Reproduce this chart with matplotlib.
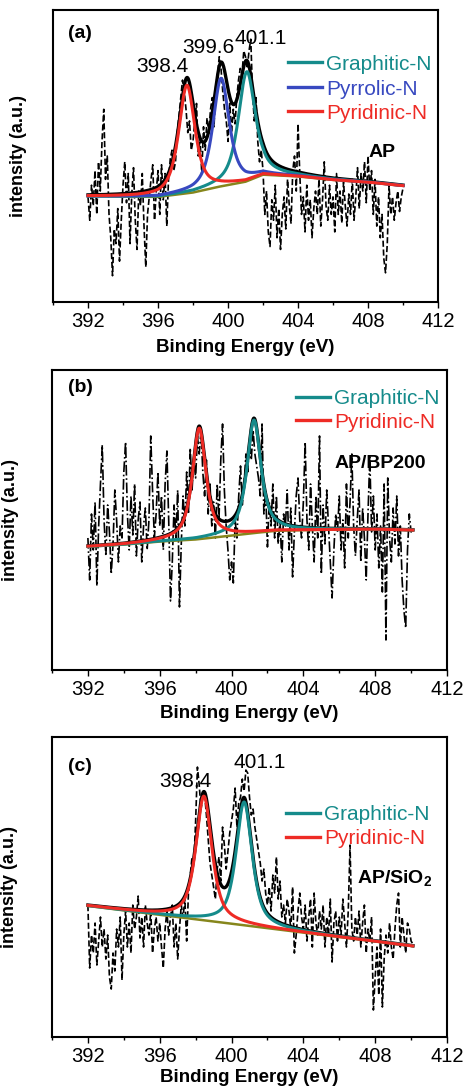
import matplotlib
matplotlib.use('Agg')
import matplotlib.pyplot as plt
import numpy as np
from matplotlib.ticker import MultipleLocator

plt.rcParams['font.family'] = ['Liberation Sans', 'DejaVu Sans']
plt.rcParams['mathtext.fontset'] = 'custom'
plt.rcParams['mathtext.rm'] = 'Liberation Sans'
plt.rcParams['mathtext.bf'] = 'Liberation Sans:bold'

# ---- raw N1s spectra (0.1 eV step from 392.0), arbitrary units ----
energy_a = np.round(np.arange(392.0, 410.05, 0.1), 1)
raw_a = [36, 28, 40, 33, 45, 30, 48, 38, 55, 66,
         42, 50, 30, 22, 9, 25, 20, 32, 14, 28,
         40, 48, 34, 44, 20, 37, 46, 28, 18, 38,
         33, 44, 26, 12, 30, 36, 42, 47, 28, 38,
         45, 30, 47, 35, 44, 26, 42, 49, 52, 45,
         48, 58, 64, 70, 76, 72, 66, 58, 62, 52,
         55, 62, 68, 50, 56, 44, 60, 52, 63, 58,
         66, 70, 60, 74, 78, 84, 80, 72, 66, 62,
         55, 68, 58, 66, 61, 70, 76, 80, 78, 86,
         84, 80, 86, 90, 72, 62, 70, 55, 48, 52,
         45, 30, 38, 24, 19, 35, 28, 40, 22, 32,
         18, 30, 36, 25, 42, 33, 27, 45, 50, 38,
         61, 44, 30, 36, 24, 40, 28, 35, 22, 32,
         38, 30, 42, 26, 35, 48, 33, 28, 40, 30,
         36, 24, 44, 30, 38, 27, 41, 33, 26, 37,
         30, 42, 28, 36, 46, 32, 44, 38, 48, 34,
         50, 38, 45, 30, 42, 26, 36, 22, 30, 15,
         10, 20, 40, 30, 36, 28, 34, 38, 31, 36,
         39]

energy_b = np.round(np.arange(392.0, 410.15, 0.1), 1)
raw_b = [44, 30, 52, 40, 56, 28, 48, 62, 75, 50,
         38, 55, 46, 32, 42, 60, 50, 36, 48, 44,
         66, 76, 52, 40, 58, 45, 62, 38, 50, 56,
         36, 48, 54, 40, 50, 78, 60, 44, 52, 66,
         48, 58, 40, 62, 73, 50, 23, 36, 55, 44,
         60, 21, 42, 58, 48, 66, 52, 74, 60, 70,
         64, 78, 72, 80, 66, 58, 70, 52, 62, 48,
         56, 44, 62, 50, 70, 82, 60, 48, 40, 30,
         36, 29, 50, 44, 58, 68, 55, 62, 72, 66,
         76, 70, 80, 72, 68, 64, 58, 82, 52, 60,
         41, 56, 48, 62, 44, 58, 42, 50, 36, 52,
         48, 60, 40, 54, 31, 46, 58, 64, 50, 44,
         56, 76, 50, 40, 62, 48, 36, 58, 44, 78,
         32, 55, 42, 60, 48, 36, 24, 40, 52, 46,
         58, 40, 50, 34, 62, 44, 56, 72, 48, 38,
         50, 60, 36, 54, 44, 30, 52, 71, 46, 58,
         40, 52, 34, 48, 26, 62, 10, 64, 44, 36,
         54, 42, 58, 38, 48, 30, 20, 14, 40, 52,
         46, 47]

energy_c = np.round(np.arange(392.0, 410.15, 0.1), 1)
raw_c = [44, 23, 34, 28, 38, 24, 32, 40, 30, 36,
         26, 34, 20, 16, 28, 22, 36, 30, 40, 19,
         34, 42, 30, 38, 28, 44, 36, 40, 47, 33,
         40, 30, 44, 38, 34, 42, 28, 36, 40, 32,
         38, 30, 23, 36, 42, 34, 40, 44, 30, 38,
         26, 36, 44, 40, 46, 32, 48, 54, 60, 58,
         72, 90, 84, 76, 80, 81, 74, 66, 58, 54,
         50, 46, 56, 60, 52, 70, 64, 56, 62, 68,
         72, 76, 83, 70, 78, 80, 86, 82, 89, 88,
         80, 74, 76, 70, 66, 62, 58, 52, 56, 48,
         44, 50, 42, 54, 48, 60, 46, 52, 40, 44,
         38, 46, 42, 36, 50, 28, 34, 42, 48, 40,
         36, 44, 32, 40, 46, 30, 48, 38, 34, 42,
         36, 44, 30, 40, 34, 46, 25, 38, 42, 32,
         40, 34, 46, 38, 30, 42, 64, 36, 32, 40,
         34, 42, 30, 38, 44, 28, 36, 32, 40, 9,
         20, 30, 14, 36, 10, 26, 34, 28, 38, 30,
         26, 36, 44, 48, 30, 40, 34, 28, 38, 36,
         32, 31]

# ---- fitted background (knots) ----
bg_x_a = [392, 396, 398, 399.5, 401, 402, 404, 406, 408, 410]
bg_y_a = [36.2, 36.0, 37.5, 39.5, 41.2, 43.6, 43.0, 41.8, 41.0, 39.8]
bg_x_b = [392, 394, 396, 398, 400, 401.5, 402.5, 404, 406, 408, 410.1]
bg_y_b = [41.1, 41.8, 42.8, 43.5, 44.8, 45.8, 46.4, 46.6, 46.8, 46.9, 46.6]
bg_x_c = [392, 410.1]
bg_y_c = [43.7, 30.3]

# ---- fitted components: name, center (eV), height, FWHM (eV) ----
peaks_a = [('Graphitic-N', 401.07, 37.5, 1.15),
           ('Pyrrolic-N', 399.6, 37.0, 1.1),
           ('Pyridinic-N', 397.65, 37.0, 1.1)]
peaks_b = [('Graphitic-N', 401.25, 37.7, 0.93),
           ('Pyridinic-N', 398.2, 37.0, 0.9)]
peaks_c = [('Graphitic-N', 400.7, 41.1, 1.06),
           ('Pyridinic-N', 398.46, 41.4, 1.06)]

colors = {'Graphitic-N': '#158b8b', 'Pyrrolic-N': '#3849c0', 'Pyridinic-N': '#ee2b25'}
olive = '#86861c'


def pseudo_voigt(x, center, height, fwhm, eta=0.7):
    hw = fwhm / 2.0
    lor = 1.0 / (1.0 + ((x - center) / hw) ** 2)
    gau = np.exp(-np.log(2) * ((x - center) / hw) ** 2)
    return height * (eta * lor + (1 - eta) * gau)


def draw_panel(ax, energy, raw, rawstyle, bg_x, bg_y, peaks, x_end, eta,
               tag, tag_y, sample, sample_xy, legend_x, legend_y, xlabel_pad):
    ax.plot(energy, raw, color='black', linestyle=rawstyle, linewidth=1.2, zorder=1)

    x = np.linspace(392, x_end, 700)
    bg = np.interp(x, bg_x, bg_y)
    comps = [pseudo_voigt(x, c, h, w, eta) for (_, c, h, w) in peaks]
    ax.plot(x, bg + np.sum(comps, axis=0), color='black', linewidth=2.4, zorder=2)
    ax.plot(bg_x, bg_y, color=olive, linewidth=1.8, zorder=3)
    for (name, c, h, w), comp in zip(peaks, comps):
        ax.plot(x, bg + comp, color=colors[name], linewidth=2.2, zorder=4)

    # legend drawn by hand
    for i, (name, c, h, w) in enumerate(peaks):
        yy = legend_y[i]
        ax.plot([legend_x[0], legend_x[1]], [yy, yy], color=colors[name],
                linewidth=2.4, transform=ax.transAxes, zorder=5)
        ax.text(legend_x[2], yy, name, color=colors[name], fontsize=15,
                va='center_baseline', ha='left', transform=ax.transAxes)

    ax.text(0.04, tag_y, tag, fontsize=14, fontweight='bold', va='center',
            transform=ax.transAxes)
    ax.text(sample_xy[0], sample_xy[1], sample, fontsize=14, fontweight='bold',
            ha='center', va='center_baseline')

    ax.set_xlim(390, 412)
    ax.set_ylim(0, 100)
    ax.xaxis.set_major_locator(MultipleLocator(4))
    ax.xaxis.set_minor_locator(MultipleLocator(2))
    ax.set_xticks([392, 396, 400, 404, 408, 412])
    ax.set_yticks([])
    ax.tick_params(axis='x', which='major', direction='out', length=4, width=1,
                   labelsize=14.5, pad=3)
    ax.tick_params(axis='x', which='minor', direction='out', length=2.5, width=1)
    for sp in ax.spines.values():
        sp.set_linewidth(1.5)
    ax.set_xlabel('Binding Energy (eV)', fontsize=13.5, fontweight='bold',
                  labelpad=xlabel_pad)
    ax.set_ylabel('intensity (a.u.)', fontsize=13, fontweight='bold')


fig = plt.figure(figsize=(4.65, 10.86), dpi=100)

ax_a = fig.add_axes([0.1140, 0.7219, 0.8280, 0.2689])
ax_b = fig.add_axes([0.1118, 0.3831, 0.8495, 0.2762])
ax_c = fig.add_axes([0.1118, 0.0451, 0.8495, 0.2762])

draw_panel(ax_a, energy_a, raw_a, '--', bg_x_a, bg_y_a, peaks_a, 410.0, 0.7,
           '(a)', 0.921, 'AP', (408.8, 52.0),
           (0.610, 0.699, 0.709), (0.821, 0.735, 0.654), 6)
draw_panel(ax_b, energy_b, raw_b, '-.', bg_x_b, bg_y_b, peaks_b, 410.1, 0.8,
           '(b)', 0.942, 'AP/BP200', (408.3, 69.5),
           (0.618, 0.704, 0.714), (0.911, 0.833), 4.5)
draw_panel(ax_c, energy_c, raw_c, '--', bg_x_c, bg_y_c, peaks_c, 410.1, 0.7,
           '(c)', 0.903, r'AP/SiO$_\mathbf{2}$', (409.1, 53.5),
           (0.592, 0.678, 0.689), (0.748, 0.668), 2)

ax_a.yaxis.set_label_coords(-0.0675, 0.5)
ax_b.yaxis.set_label_coords(-0.0835, 0.5)
ax_c.yaxis.set_label_coords(-0.086, 0.5)

# peak position labels
ax_a.text(396.26, 81.2, '398.4', fontsize=15, ha='center', va='center_baseline')
ax_a.text(398.9, 88.0, '399.6', fontsize=15, ha='center', va='center_baseline')
ax_a.text(401.87, 90.9, '401.1', fontsize=15, ha='center', va='center_baseline')
ax_c.text(397.45, 85.7, '398.4', fontsize=15, ha='center', va='center_baseline')
ax_c.text(401.56, 92.1, '401.1', fontsize=15, ha='center', va='center_baseline')

fig.savefig('out.png', dpi=100)
